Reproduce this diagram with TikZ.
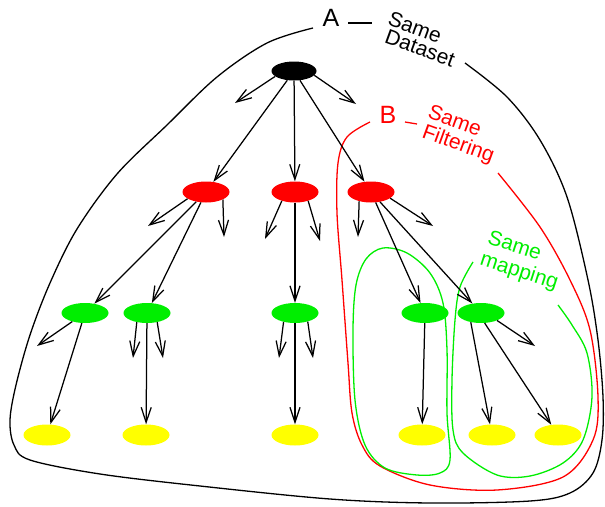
\documentclass[tikz,border=0pt]{standalone}
\usepackage{fontspec}
\setmainfont{Liberation Sans}
\usetikzlibrary{shapes.geometric,arrows.meta}
\definecolor{myred}{RGB}{255,0,0}
\definecolor{mygreen}{RGB}{0,238,0}
\definecolor{myyellow}{RGB}{255,255,0}
\tikzset{
  nd/.style={ellipse, inner sep=0pt, minimum width=47pt, minimum height=21pt},
  rootnd/.style={nd, fill=black, minimum width=45pt, minimum height=19pt},
  rednd/.style={nd, fill=myred},
  greennd/.style={nd, fill=mygreen, minimum height=20pt},
  yellownd/.style={nd, fill=myyellow},
  edge/.style={-{Straight Barb[length=15pt,width=10pt]}, line width=1.25pt},
  lbl/.style={font=\fontsize{21}{25}\selectfont, inner sep=0pt},
  biglbl/.style={font=\fontsize{25}{29}\selectfont, inner sep=0pt},
  hull/.style={line width=1.3pt, smooth, tension=0.55},
}
\begin{document}
\begin{tikzpicture}[x=1pt,y=-1pt]
\useasboundingbox (0,0) rectangle (605,506);

% enclosing curves
\draw[hull] plot coordinates {(313,28) (267,43) (217,77) (167,125) (117,174) (77,229) (50,283) (30,335) (16,385) (10,420) (14,445) (30,460) (100,474) (200,486) (330,499) (430,503) (530,501) (570,493) (593,473) (602,440) (603,397) (598,340) (588,280) (567,197) (540,140) (507,97) (465,63)};
\draw[hull, myred] plot coordinates {(370,122) (347,137) (338,163) (337,213) (342,280) (348,363) (352,413) (362,445) (380,466) (430,485) (497,490) (563,477) (593,440) (598,397) (590,330) (570,280) (540,227) (498,173)};
\draw[hull, mygreen] plot[smooth cycle] coordinates {(383,248) (407,253) (430,273) (443,303) (447,350) (447,413) (450,460) (440,473) (417,475) (385,468) (365,445) (355,400) (353,330) (356,285) (366,259)};
\draw[hull, mygreen] plot coordinates {(473,262) (460,287) (455,320) (452,380) (453,430) (463,453) (497,475) (530,476) (563,463) (583,440) (592,397) (587,353) (572,325) (558,305)};

% labels
\node[biglbl] (lA) at (331,18) {A};
\draw[line width=1.3pt] (348,23) -- (372,23);
\node[lbl, rotate=-20] (lAs) at (415,27) {Same};
\node[lbl, rotate=-20] (lAd) at (420,48) {Dataset};
\node[biglbl, text=myred] (lB) at (388,115) {B};
\draw[line width=1.3pt, myred] (405,122) -- (417,124);
\node[lbl, rotate=-20, text=myred] (lBs) at (455,120) {Same};
\node[lbl, rotate=-20, text=myred] (lBf) at (458,145) {Filtering};
\node[lbl, rotate=-18, text=mygreen] (lCs) at (515,245) {Same};
\node[lbl, rotate=-18, text=mygreen] (lCm) at (519,272) {mapping};

% nodes
\node[rootnd] (root) at (294,71) {};
\node[rednd] (r1) at (206,192) {};
\node[rednd] (r2) at (295,192) {};
\node[rednd] (r3) at (371,192) {};
\node[greennd] (g1) at (85,313) {};
\node[greennd] (g2) at (147,313) {};
\node[greennd] (g3) at (295,313) {};
\node[greennd] (g4) at (425,313) {};
\node[greennd] (g5) at (481,313) {};
\node[yellownd] (y1) at (47,435) {};
\node[yellownd] (y2) at (146,435) {};
\node[yellownd] (y3) at (295,435) {};
\node[yellownd] (y4) at (422,435) {};
\node[yellownd] (y5) at (492,435) {};
\node[yellownd] (y6) at (558,435) {};

% free ends of stub edges
\coordinate (s0a) at (235,103);
\coordinate (s0b) at (356,104);
\coordinate (s1a) at (148,226);
\coordinate (s1b) at (224,237);
\coordinate (s2a) at (265,239);
\coordinate (s2b) at (320,241);
\coordinate (s3a) at (358,237);
\coordinate (s3b) at (433,226);
\coordinate (t1a) at (37,346);
\coordinate (t2a) at (133,358);
\coordinate (t2b) at (163,358);
\coordinate (t3a) at (279,358);
\coordinate (t3b) at (313,358);
\coordinate (t5a) at (535,346);

% edges
\draw[edge] (root) -- (r1);
\draw[edge] (root) -- (r2);
\draw[edge] (root) -- (r3);
\draw[edge] (root.196) -- (s0a);
\draw[edge] (root.-12) -- (s0b);

\draw[edge] (r1) -- (g1);
\draw[edge] (r1) -- (g2);
\draw[edge] (r1.200) -- (s1a);
\draw[edge] (r1.-24) -- (s1b);

\draw[edge] (r2) -- (g3);
\draw[edge] (r2.214) -- (s2a);
\draw[edge] (r2.-34) -- (s2b);

\draw[edge] (r3) -- (g4);
\draw[edge] (r3) -- (g5);
\draw[edge] (r3.218) -- (s3a);
\draw[edge] (r3.-18) -- (s3b);

\draw[edge] (g1) -- (y1);
\draw[edge] (g1.214) -- (t1a);
\draw[edge] (g2) -- (y2);
\draw[edge] (g2.222) -- (t2a);
\draw[edge] (g2.-42) -- (t2b);
\draw[edge] (g3) -- (y3);
\draw[edge] (g3.218) -- (t3a);
\draw[edge] (g3.-34) -- (t3b);
\draw[edge] (g4) -- (y4);
\draw[edge] (g5.222) -- (y5);
\draw[edge] (g5.-70) -- (y6);
\draw[edge] (g5.-25) -- (t5a);
\end{tikzpicture}
\end{document}
